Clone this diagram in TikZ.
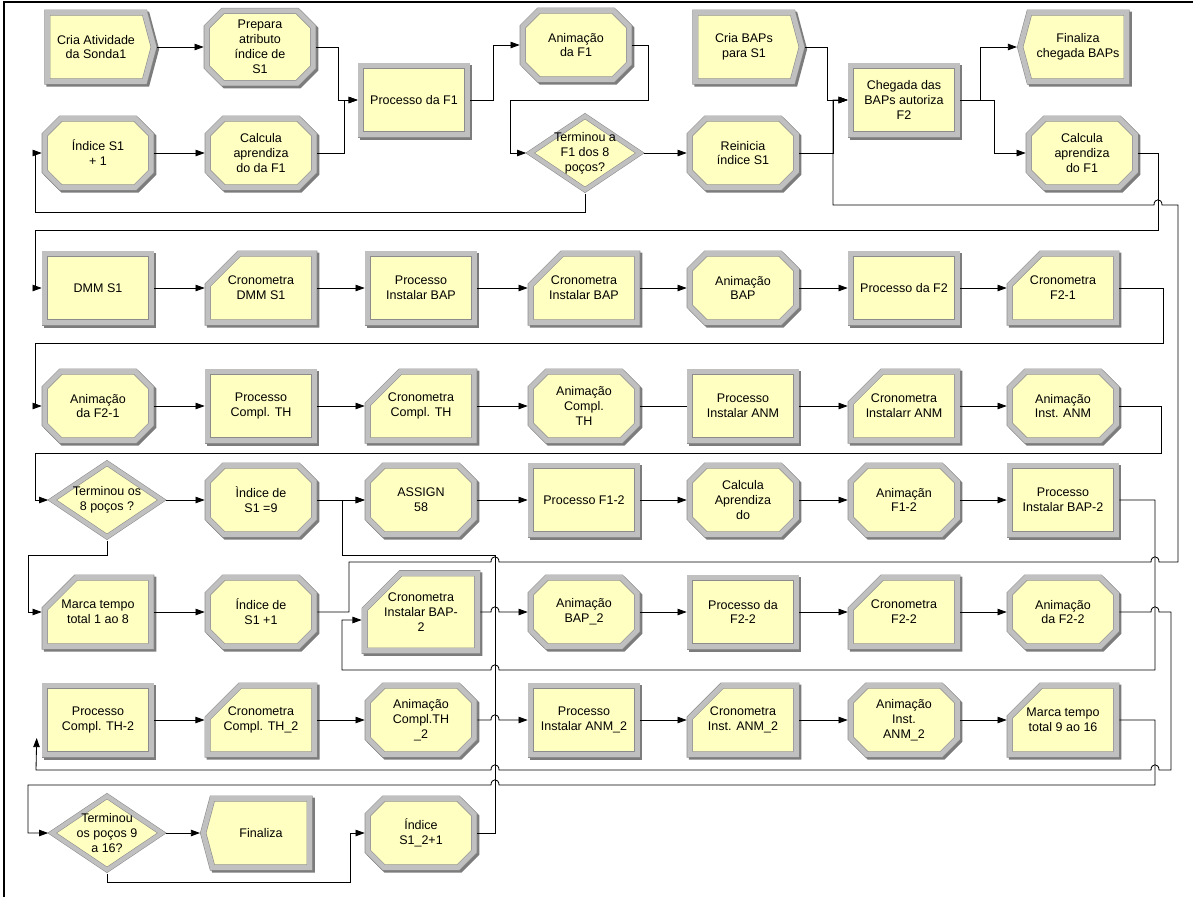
\documentclass[tikz,border=0pt]{standalone}
\usepackage{fontspec}
\setmainfont{Liberation Sans}
\usetikzlibrary{arrows.meta,calc,shapes.misc,shapes.geometric,shapes.symbols}
\definecolor{Pale}{HTML}{FFFFC2}
\definecolor{BevelLt}{HTML}{C0C0C0}
\definecolor{BevelDk}{HTML}{7C7C7C}
\definecolor{Edge}{HTML}{8C8C8C}

% small hop where a connector crosses another one
\newcommand{\hopL}[2]{-- ({#1+4},#2) .. controls ({#1+4},{#2-7}) and ({#1-4},{#2-7}) .. ({#1-4},#2)}
\newcommand{\hopR}[2]{-- ({#1-4},#2) .. controls ({#1-4},{#2-7}) and ({#1+4},{#2-7}) .. ({#1+4},#2)}

\begin{document}
\begin{tikzpicture}[
        x=0.025cm, y=-0.025cm,
        every node/.style={font=\fontsize{8.9}{10.6}\selectfont},
        module/.style={fill=Pale, draw=Edge, line width=0.4pt, double=BevelLt, double distance=3.6pt,
            align=center, inner sep=1pt, outer sep=2.2pt, minimum width=2.66cm, minimum height=1.72cm,
            preaction={draw=BevelDk, line width=4.4pt, transform canvas={shift={(1.5pt,-1.5pt)}}}},
        process/.style={module, rectangle},
        assign/.style={module, chamfered rectangle, chamfered rectangle xsep=0.2cm, chamfered rectangle ysep=0.2cm},
        record/.style={module, chamfered rectangle, chamfered rectangle corners=north west,
            chamfered rectangle xsep=0.45cm, chamfered rectangle ysep=0.45cm},
        create/.style={module, signal, signal to=east, signal pointer angle=150},
        dispose/.style={module, signal, signal to=west, signal pointer angle=150},
        decide/.style={fill=Pale, draw=Edge, line width=0.4pt, double=BevelLt, double distance=3pt,
            diamond, aspect=1.5, inner sep=-4pt, outer sep=2pt, align=center,
            minimum width=2.8cm, minimum height=1.9cm},
        flow/.style={-{Triangle[length=6.5pt,width=4.6pt]}, line width=0.6pt},
        link/.style={line width=0.6pt}
    ]
        \useasboundingbox (0,0) rectangle (1193,897);
        \draw[line width=1.5pt] (4,897) -- (4,2) -- (1193,2);

        % row 1
        \node[create] (a1) at (96,47) {Cria Atividade\\da Sonda1};
        \node[assign] (a2) at (260,47) {Prepara\\atributo\\índice de\\S1};
        \node[process] (a3) at (414,100) {Processo da F1};
        \node[assign] (a4) at (576,45) {Animação\\da F1};
        \node[create] (a5) at (744,47) {Cria BAPs\\para S1};
        \node[process] (a6) at (904,100) {Chegada das\\BAPs autoriza\\F2};
        \node[dispose] (a7) at (1078,47) {Finaliza\\chegada BAPs};
        % row 2
        \node[assign] (b1) at (98,153) {Índice S1\\+ 1};
        \node[assign] (b2) at (261,153) {Calcula\\aprendiza\\do da F1};
        \node[decide] (b3) at (585,153) {Terminou a\\F1 dos 8\\poços?};
        \node[assign] (b4) at (743,153) {Reinicia\\índice S1};
        \node[assign] (b5) at (1082,153) {Calcula\\aprendiza\\do F1};
        % row 3
        \node[process] (dmm) at (98,288) {DMM S1};
        \node[record] (cdmm) at (261,288) {Cronometra\\DMM S1};
        \node[process] (pib) at (421,288) {Processo\\Instalar BAP};
        \node[record] (cib) at (584,288) {Cronometra\\Instalar BAP};
        \node[assign] (abap) at (743,288) {Animação\\BAP};
        \node[process] (pf2) at (904,288) {Processo da F2};
        \node[record] (cf21) at (1063,288) {Cronometra\\F2-1};
        % row 4
        \node[assign] (af21) at (98,406) {Animação\\da F2-1};
        \node[process] (pcth) at (261,406) {Processo\\Compl. TH};
        \node[record] (ccth) at (421,406) {Cronometra\\Compl. TH};
        \node[assign] (acth) at (584,406) {Animação\\Compl.\\TH};
        \node[process] (pian) at (743,406) {Processo\\Instalar ANM};
        \node[record] (cian) at (904,406) {Cronometra\\Instalarr ANM};
        \node[assign] (aian) at (1063,406) {Animação\\Inst. ANM};
        % row 5
        \node[decide] (t8) at (107,500) {Terminou os\\8 poços ?};
        \node[assign] (is9) at (261,500) {Ìndice de\\S1 =9};
        \node[assign] (as58) at (421,500) {ASSIGN\\58};
        \node[process] (pf12) at (584,500) {Processo F1-2};
        \node[assign] (cad) at (743,500) {Calcula\\Aprendiza\\do};
        \node[assign] (af12) at (904,500) {Animaçãn\\F1-2};
        \node[process] (pib2) at (1063,500) {Processo\\Instalar BAP-2};
        % row 6
        \node[record] (mt18) at (98,612) {Marca tempo\\total 1 ao 8};
        \node[assign] (is1) at (261,612) {Índice de\\S1 +1};
        \node[record] (cib2) at (421,612) {Cronometra\\Instalar BAP-\\2};
        \node[assign] (abap2) at (584,612) {Animação\\BAP\_2};
        \node[process] (pf22) at (743,612) {Processo da\\F2-2};
        \node[record] (cf22) at (904,612) {Cronometra\\F2-2};
        \node[assign] (af22) at (1063,612) {Animação\\da F2-2};
        % row 7
        \node[process] (pct2) at (98,720) {Processo\\Compl. TH-2};
        \node[record] (cct2) at (261,720) {Cronometra\\Compl. TH\_2};
        \node[assign] (act2) at (421,720) {Animação\\Compl.TH\\\_2};
        \node[process] (pian2) at (584,720) {Processo\\Instalar ANM\_2};
        \node[record] (cian2) at (743,720) {Cronometra\\Inst. ANM\_2};
        \node[assign] (aian2) at (904,720) {Animação\\Inst.\\ANM\_2};
        \node[record] (mt916) at (1063,720) {Marca tempo\\total 9 ao 16};
        % row 8
        \node[decide] (t916) at (107,833) {Terminou\\os poços 9\\a 16?};
        \node[dispose] (fin) at (261,833) {Finaliza};
        \node[assign] (i2) at (421,833) {Índice\\S1\_2+1};

        % first phase
        \draw[flow] (a1.east) -- (a2.west);
        \draw[flow] (a2.east) -- ++(22,0) |- (a3.west);
        \draw[flow] (b1.east) -- (b2.west);
        \draw[flow] (b2.east) -- ++(27,0) |- (a3.west);
        \draw[flow] (a3.east) -- ++(23,0) |- (a4.west);
        \draw[flow] (a4.east) -| (648,100) -| (510,153) -- (b3.west);
        \draw[flow] (b3.east) -- (b4.west);
        \draw[flow] (b3.south) |- (35,212) |- (b1.west);
        \draw[flow] (a5.east) -- ++(22,0) |- (a6.west);
        \draw[flow] (b4.east) -| (833,100) -- (a6.west);
        \draw[flow] (a6.east) -- ++(20,0) |- (a7.west);
        \draw[flow] (a6.east) -- ++(34,0) |- (b5.west);
        \draw[flow] (b5.east) -| (1158,230) -| (35,288) -- (dmm.west);

        % row 3
        \draw[flow] (dmm.east) -- (cdmm.west);
        \draw[flow] (cdmm.east) -- (pib.west);
        \draw[flow] (pib.east) -- (cib.west);
        \draw[flow] (cib.east) -- (abap.west);
        \draw[flow] (abap.east) -- (pf2.west);
        \draw[flow] (pf2.east) -- (cf21.west);
        \draw[flow] (cf21.east) -| (1163,343) -| (35,406) -- (af21.west);

        % row 4
        \draw[flow] (af21.east) -- (pcth.west);
        \draw[flow] (pcth.east) -- (ccth.west);
        \draw[flow] (ccth.east) -- (acth.west);
        \draw[link] (acth.east) -- (pian.west);
        \draw[flow] (pian.east) -- (cian.west);
        \draw[flow] (cian.east) -- (aian.west);
        \draw[flow] (aian.east) -| (1161,453) -| (35,500) -- (t8.west);

        % row 5
        \draw[flow] (t8.east) -- (is9.west);
        \draw[flow] (t8.south) |- (28,555) |- (mt18.west);
        \draw[flow] (is9.east) -- (as58.west);
        \draw[flow] (as58.east) -- (pf12.west);
        \draw[flow] (pf12.east) -- (cad.west);
        \draw[flow] (cad.east) -- (af12.west);
        \draw[flow] (af12.east) -- (pib2.west);
        \draw[flow] (pib2.east) -| (1155,670) \hopL{495}{670} -- (342,670) -- (342,620) -- ($(cib2.west)+(0,8)$);

        % row 6
        \draw[flow] (mt18.east) -- (is1.west);
        \draw[flow] (is1.east) -- (349,612) -- (349,562) \hopR{495}{562} \hopR{1155}{562} -- (1178,562)
            -- (1178,205) \hopL{1158}{205} -- (833,205) -- (833,100) -- (a6.west);
        \draw[flow] (cib2.east) \hopR{495}{612} -- (abap2.west);
        \draw[flow] (abap2.east) -- (pf22.west);
        \draw[flow] (pf22.east) -- (cf22.west);
        \draw[flow] (cf22.east) -- (af22.west);
        \draw[flow] (af22.east) \hopR{1155}{612} -- (1171,612) -- (1171,770) \hopL{1155}{770} \hopL{495}{770}
            -- (36,770) -- ($(pct2.west)+(-5,18)$);

        % row 7
        \draw[flow] (pct2.east) -- (cct2.west);
        \draw[flow] (cct2.east) -- (act2.west);
        \draw[flow] (act2.east) \hopR{495}{720} -- (pian2.west);
        \draw[flow] (pian2.east) -- (cian2.west);
        \draw[flow] (cian2.east) -- (aian2.west);
        \draw[flow] (aian2.east) -- (mt916.west);
        \draw[flow] (mt916.east) -| (1155,785) \hopL{495}{785} -| (28,833) -- (t916.west);

        % row 8
        \draw[flow] (t916.east) -- (fin.west);
        \draw[flow] (t916.south) |- (350,882) |- (i2.west);
        \draw[flow] (i2.east) -| (495,555) -| (342,500) -- (as58.west);
    \end{tikzpicture}
\end{document}
